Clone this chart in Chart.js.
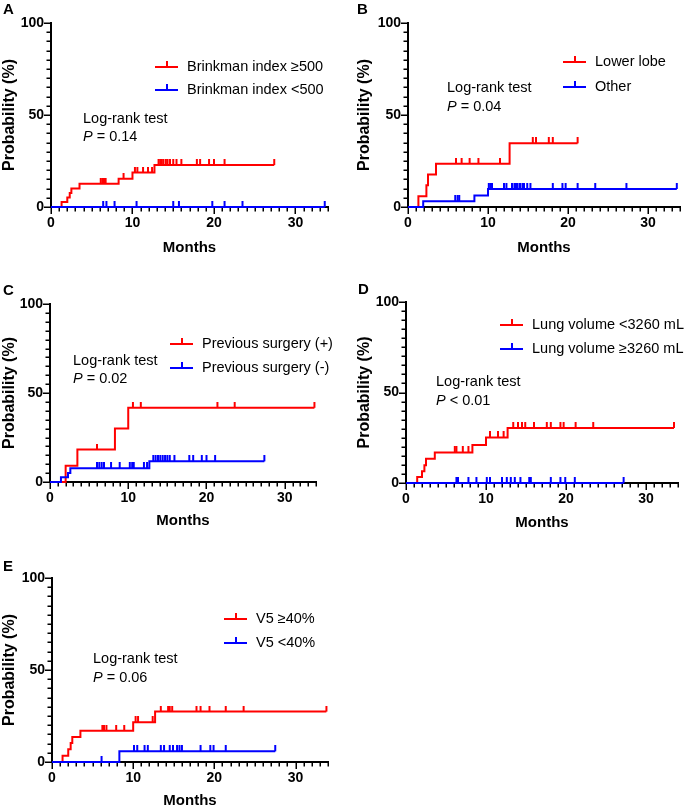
<!DOCTYPE html>
<html>
<head>
<meta charset="utf-8">
<script src="https://cdn.jsdelivr.net/npm/chart.js@4.4.1/dist/chart.umd.min.js"></script>
<style>
  body { margin: 0; background: #fff; }
  #fig { position: relative; width: 685px; height: 810px; overflow: hidden; font-family: "Liberation Sans", Arial, sans-serif; }
  #fig canvas { position: absolute; }
  .letter { position: absolute; font-weight: bold; font-size: 15px; line-height: 15px; color: #000; }
</style>
</head>
<body>
<div id="fig">
  <canvas id="km-a" width="340" height="270" style="left:0;top:0"></canvas>
  <canvas id="km-b" width="345" height="270" style="left:340px;top:0"></canvas>
  <canvas id="km-c" width="340" height="270" style="left:0;top:275px"></canvas>
  <canvas id="km-d" width="345" height="270" style="left:340px;top:275px"></canvas>
  <canvas id="km-e" width="340" height="260" style="left:0;top:550px"></canvas>
  <div class="letter" style="left:3px;top:1px">A</div>
  <div class="letter" style="left:357px;top:1px">B</div>
  <div class="letter" style="left:3px;top:282px">C</div>
  <div class="letter" style="left:358px;top:281px">D</div>
  <div class="letter" style="left:3px;top:558px">E</div>
</div>
<script>
// values (months / cumulative probability %)
// A - Brinkman index
const aRedTimes = [0, 1.3, 2.0, 2.3, 2.5, 3.5, 8.3, 10.0, 12.7, 27.4];
const aRedProb = [0, 2.7, 5.1, 7.6, 10.1, 12.7, 15.4, 18.7, 22.8, 22.8];
const aRedCens = [6.1, 6.3, 6.5, 6.7, 8.9, 10.3, 10.6, 11.3, 11.9, 12.4, 13.2, 13.4, 13.6, 13.8, 14.1, 14.3, 14.6, 15.0, 15.4, 16.0, 17.9, 18.3, 19.4, 20.0, 21.3, 27.4];
const aBlueTimes = [0, 33.6];
const aBlueProb = [0, 0];
const aBlueCens = [6.4, 6.8, 7.8, 10.5, 15.0, 15.7, 19.8, 21.3, 23.5, 33.6];

// B - tumour location
const bRedTimes = [0, 1.3, 2.3, 2.5, 3.5, 12.7, 21.2];
const bRedProb = [0, 5.9, 11.8, 17.6, 23.5, 34.6, 34.6];
const bRedCens = [6.0, 6.7, 7.7, 8.8, 11.5, 15.6, 16.0, 17.6, 18.1, 21.2];
const bBlueTimes = [0, 1.9, 8.3, 10.0, 33.6];
const bBlueProb = [0, 3.1, 6.3, 9.8, 9.8];
const bBlueCens = [5.9, 6.2, 6.4, 10.1, 10.3, 10.5, 12.0, 12.3, 13.0, 13.3, 13.5, 13.7, 14.0, 14.3, 14.5, 14.9, 15.3, 18.1, 19.3, 19.7, 21.2, 23.4, 27.3, 33.6];

// C - previous surgery
const cRedTimes = [0, 2.0, 3.5, 8.3, 10.0, 33.8];
const cRedProb = [0, 9.1, 18.2, 30.0, 41.7, 41.7];
const cRedCens = [6.0, 10.6, 11.6, 21.4, 23.6, 33.8];
const cBlueTimes = [0, 1.4, 2.3, 2.6, 12.7, 27.4];
const cBlueProb = [0, 2.6, 5.1, 7.7, 11.6, 11.6];
const cBlueCens = [6.0, 6.3, 6.6, 6.9, 7.8, 8.9, 10.2, 10.5, 10.7, 12.0, 12.4, 13.2, 13.5, 13.8, 14.1, 14.4, 14.7, 15.0, 15.3, 15.9, 17.8, 18.3, 19.4, 20.0, 21.1, 27.4];

// D - lung volume
const dRedTimes = [0, 1.4, 2.0, 2.3, 2.5, 3.6, 8.3, 10.0, 12.7, 33.5];
const dRedProb = [0, 3.3, 6.5, 9.8, 13.4, 16.9, 21.0, 25.2, 30.4, 30.4];
const dRedCens = [6.1, 6.3, 7.1, 7.8, 10.5, 11.5, 12.2, 13.4, 14.0, 14.5, 14.9, 16.0, 17.6, 18.1, 19.3, 19.7, 21.2, 23.4, 33.5];
const dBlueTimes = [0, 27.2];
const dBlueProb = [0, 0];
const dBlueCens = [6.3, 6.5, 7.8, 8.8, 10.1, 10.5, 12.0, 12.6, 13.1, 13.6, 14.3, 15.4, 15.6, 18.1, 19.3, 19.9, 21.1, 27.2];

// E - V5
const eRedTimes = [0, 1.3, 2.0, 2.3, 2.5, 3.5, 10.0, 12.7, 33.8];
const eRedProb = [0, 3.4, 6.9, 10.3, 13.6, 17.0, 21.6, 27.4, 27.4];
const eRedCens = [6.2, 6.4, 6.7, 7.9, 8.9, 10.3, 10.6, 12.4, 13.4, 14.3, 14.5, 14.8, 17.8, 18.3, 19.4, 21.4, 23.6, 33.8];
const eBlueTimes = [0, 8.3, 27.5];
const eBlueProb = [0, 5.8, 5.8];
const eBlueCens = [6.1, 10.1, 10.5, 11.4, 11.8, 13.4, 13.8, 14.5, 14.9, 15.4, 15.7, 16.0, 18.3, 19.5, 19.9, 21.4, 27.5];

const xTicks = [0, 10, 20, 30];
const yTicks = [0, 50, 100];
const X_MAX = 34;

const RED = '#ff0000';
const BLUE = '#0000ff';
const FONT = '"Liberation Sans", Arial, sans-serif';

// panels: canvas box + where the plot area sits inside the page
const panels = [
  { id: 'km-a', cx: 0, cy: 0, cw: 340, ch: 270, plot: [51, 23, 328, 207], padL: 0, monthsY: 248,
    red: [aRedTimes, aRedProb, aRedCens], blue: [aBlueTimes, aBlueProb, aBlueCens],
    labels: ['Brinkman index \u2265500', 'Brinkman index <500'], leg: [104, 44, 67],
    note: [32, 96, 114], op: '=', p: '0.14' },
  { id: 'km-b', cx: 340, cy: 0, cw: 345, ch: 270, plot: [408, 23, 681, 207], padL: 15, monthsY: 248,
    red: [bRedTimes, bRedProb, bRedCens], blue: [bBlueTimes, bBlueProb, bBlueCens],
    labels: ['Lower lobe', 'Other'], leg: [155, 39, 64],
    note: [39, 65, 84], op: '=', p: '0.04' },
  { id: 'km-c', cx: 0, cy: 275, cw: 340, ch: 270, plot: [50, 304, 316, 482], padL: 0, monthsY: 521,
    red: [cRedTimes, cRedProb, cRedCens], blue: [cBlueTimes, cBlueProb, cBlueCens],
    labels: ['Previous surgery (+)', 'Previous surgery (-)'], leg: [120, 40, 64],
    note: [23, 57, 75], op: '=', p: '0.02' },
  { id: 'km-d', cx: 340, cy: 275, cw: 345, ch: 270, plot: [406, 302, 678, 483], padL: 15, monthsY: 523,
    red: [dRedTimes, dRedProb, dRedCens], blue: [dBlueTimes, dBlueProb, dBlueCens],
    labels: ['Lung volume <3260 mL', 'Lung volume \u22653260 mL'], leg: [94, 23, 47],
    note: [30, 80, 99], op: '<', p: '0.01' },
  { id: 'km-e', cx: 0, cy: 550, cw: 340, ch: 260, plot: [52, 578, 328, 762], padL: 0, monthsY: 801,
    red: [eRedTimes, eRedProb, eRedCens], blue: [eBlueTimes, eBlueProb, eBlueCens],
    labels: ['V5 \u226540%', 'V5 <40%'], leg: [172, 41, 65],
    note: [41, 81, 100], op: '=', p: '0.06' }
];

// small vertical tick used as censor mark (sits on top of the line)
function censorMark(color) {
  const c = document.createElement('canvas');
  c.width = 4; c.height = 12;
  const g = c.getContext('2d');
  g.fillStyle = color;
  g.fillRect(1, 0, 2, 6);
  return c;
}

function stepAt(times, probs, t) {
  let v = probs[0];
  for (let i = 0; i < times.length; i++) {
    if (times[i] <= t) v = probs[i];
  }
  return v;
}

// major / minor tick marks like the original axes
const axisTicks = {
  id: 'axisTicks',
  beforeDatasetsDraw(chart) {
    const { ctx, chartArea: a, scales } = chart;
    ctx.save();
    ctx.strokeStyle = '#000';
    ctx.lineWidth = 1.5;
    ctx.beginPath();
    for (let m = 0; m <= X_MAX; m++) {
      const px = Math.round(scales.x.getPixelForValue(m)) + 0.25;
      ctx.moveTo(px, a.bottom);
      ctx.lineTo(px, a.bottom + (m % 10 === 0 ? 7 : 4.5));
    }
    for (let p = 0; p <= 100; p += 5) {
      const py = Math.round(scales.y.getPixelForValue(p)) + 0.25;
      ctx.moveTo(a.left, py);
      ctx.lineTo(a.left - (p % 50 === 0 ? 7 : 4.5), py);
    }
    ctx.stroke();
    ctx.restore();
  }
};

function textPlugin(panel) {
  return {
    id: 'kmText',
    afterDraw(chart) {
      const { ctx, chartArea: a } = chart;
      ctx.save();
      ctx.textBaseline = 'middle';
      ctx.textAlign = 'left';
      const cols = [RED, BLUE];
      [panel.leg[1], panel.leg[2]].forEach((dy, i) => {
        const x = a.left + panel.leg[0];
        const y = a.top + dy;
        ctx.strokeStyle = cols[i];
        ctx.lineWidth = 2;
        ctx.beginPath();
        ctx.moveTo(x, y);
        ctx.lineTo(x + 23, y);
        ctx.moveTo(x + 12, y);
        ctx.lineTo(x + 12, y - 6);
        ctx.stroke();
        ctx.fillStyle = '#000';
        ctx.font = '14.5px ' + FONT;
        ctx.fillText(panel.labels[i], x + 32, y);
      });
      const nx = a.left + panel.note[0];
      ctx.font = '14.5px ' + FONT;
      ctx.fillText('Log-rank test', nx, a.top + panel.note[1]);
      ctx.font = 'italic 14.5px ' + FONT;
      ctx.fillText('P', nx, a.top + panel.note[2]);
      const w = ctx.measureText('P').width;
      ctx.font = '14.5px ' + FONT;
      ctx.fillText(' ' + panel.op + ' ' + panel.p, nx + w, a.top + panel.note[2]);
      ctx.restore();
    }
  };
}

function curve(times, probs) {
  return times.map((t, i) => ({ x: t, y: probs[i] }));
}

function censors(times, probs, cens) {
  return cens.map(t => ({ x: t, y: stepAt(times, probs, t) }));
}

function drawPanel(panel) {
  const [pl, pt, pr, pb] = panel.plot;
  const yWidth = pl - panel.cx - panel.padL;
  const xHeight = panel.cy + panel.ch - pb;
  const titlePad = panel.cy + panel.ch - 9 - panel.monthsY;
  const red = panel.red, blue = panel.blue;

  new Chart(document.getElementById(panel.id), {
    type: 'line',
    data: {
      datasets: [
        { data: curve(blue[0], blue[1]), borderColor: BLUE, borderWidth: 2, stepped: true, pointRadius: 0, order: 0, clip: false },
        { data: censors(blue[0], blue[1], blue[2]), showLine: false, pointStyle: censorMark(BLUE), pointRadius: 3, order: 0, clip: false },
        { data: curve(red[0], red[1]), borderColor: RED, borderWidth: 2, stepped: true, pointRadius: 0, order: 1, clip: false },
        { data: censors(red[0], red[1], red[2]), showLine: false, pointStyle: censorMark(RED), pointRadius: 3, order: 1, clip: false }
      ]
    },
    options: {
      responsive: false,
      animation: false,
      events: [],
      layout: { padding: { left: panel.padL, top: pt - panel.cy, right: panel.cx + panel.cw - pr, bottom: 0 } },
      scales: {
        x: {
          type: 'linear', min: 0, max: X_MAX,
          border: { color: '#000', width: 2 },
          grid: { display: false, drawTicks: false },
          afterBuildTicks: s => { s.ticks = xTicks.map(v => ({ value: v })); },
          ticks: { color: '#000', padding: 8, maxRotation: 0, autoSkip: false, font: { family: FONT, size: 14, weight: 'bold' } },
          title: { display: true, text: 'Months', color: '#000', padding: { top: 0, bottom: titlePad }, font: { family: FONT, size: 15, weight: 'bold' } },
          afterFit: s => { s.height = xHeight; }
        },
        y: {
          min: 0, max: 100,
          border: { color: '#000', width: 2 },
          grid: { display: false, drawTicks: false },
          afterBuildTicks: s => { s.ticks = yTicks.map(v => ({ value: v })); },
          ticks: { color: '#000', padding: 7, autoSkip: false, font: { family: FONT, size: 14, weight: 'bold' } },
          title: { display: true, text: 'Probability (%)', color: '#000', padding: 0, font: { family: FONT, size: 16, weight: 'bold' } },
          afterFit: s => { s.width = yWidth; }
        }
      },
      plugins: { legend: { display: false }, tooltip: { enabled: false } }
    },
    plugins: [axisTicks, textPlugin(panel)]
  });
}

panels.forEach(drawPanel);
</script>
</body>
</html>
